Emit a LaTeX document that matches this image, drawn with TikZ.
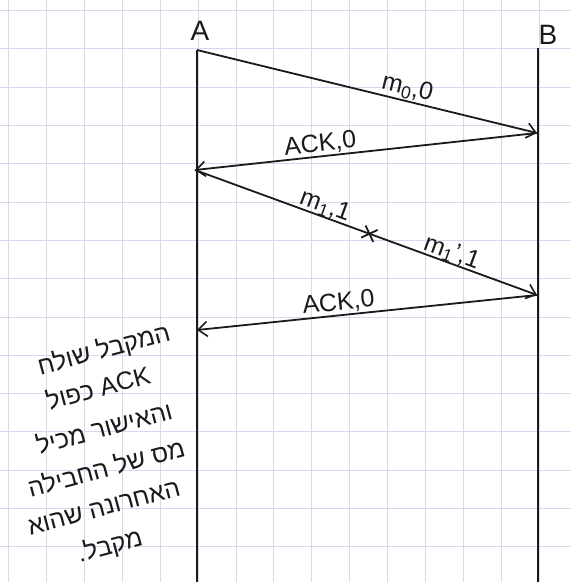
\documentclass[tikz,border=0pt]{standalone}
\usepackage{fontspec}
\setmainfont{Liberation Sans}
\newfontfamily\hebfont[Script=Hebrew]{Liberation Sans}
\TeXXeTstate=1
\usetikzlibrary{arrows.meta, shapes.misc}
\definecolor{cgrid}{HTML}{D6D8EE}
\definecolor{cink}{HTML}{1A1A1A}

\begin{document}
\begin{tikzpicture}[
  x=1pt, y=-1pt,
  >={Straight Barb[length=9pt, width=15pt, line width=1.6pt]},
  ink/.style={draw=cink, line width=1.8pt},
  msg/.style={ink, ->},
  lbl/.style={font=\fontsize{25}{29}\selectfont, inner sep=1pt, text=cink},
  head/.style={font=\fontsize{28}{32}\selectfont, inner sep=0pt, text=cink},
  heb/.style={font=\hebfont\fontsize{25}{29}\selectfont, rotate=15, inner sep=0pt, text=cink},
  gridline/.style={draw=cgrid, line width=0.8pt},
  lost/.style={cross out, draw=cink, line width=1.8pt, minimum size=11pt, inner sep=0pt},
  ]
\useasboundingbox (0,0) rectangle (571,582);
\fill[white] (0,0) rectangle (571,582);
% squared paper
\foreach \gx in {0,...,14} \draw[gridline] ({8.5+37.9*\gx},0) -- ++(0,582);
\foreach \gy in {0,...,14} \draw[gridline] (0,{10.5+38.3*\gy}) -- ++(571,0);
% the two sides
\node[head] (A) at (200,31) {A};
\node[head] (B) at (548,35) {B};
\coordinate (a1) at (197,50);
\coordinate (a2) at (195,170);
\coordinate (a3) at (197,330);
\coordinate (aEnd) at (197,582);
\coordinate (b0) at (538,48);
\coordinate (b1) at (537,133);
\coordinate (b2) at (537,295);
\coordinate (bEnd) at (538,582);
\draw[ink] (a1) -- (aEnd);
\draw[ink] (b0) -- (bEnd);
% messages
\draw[msg] (a1) -- node[lbl, sloped, above, pos=0.61] (m0) {m\textsubscript{0},0} (b1);
\draw[msg] (b1) -- node[lbl, sloped, above, pos=0.63] (ack0) {ACK,0} (a2);
\draw[msg] (a2) -- node[lbl, sloped, above=-2pt, pos=0.37] (m1) {m\textsubscript{1},1}
  node[lost, sloped, pos=0.51] (x1) {}
  node[lbl, sloped, above=-2pt, pos=0.74] (m1b) {m\textsubscript{1}',1} (b2);
\draw[msg] (b2) -- node[lbl, sloped, above, pos=0.58] (ack1) {ACK,0} (a3);
% note
\node[heb] (n1) at (104,350) {\beginR המקבל שולח\endR};
\node[heb] (n2) at (98,387) {\beginR\beginL ACK\endL{} כפול\endR};
\node[heb] (n3) at (104,427) {\beginR והאישור מכיל\endR};
\node[heb] (n4) at (106,467) {\beginR מס של החבילה\endR};
\node[heb] (n5) at (104,508) {\beginR האחרונה שהוא\endR};
\node[heb] (n6) at (110,546) {\beginR מקבל.\endR};
\end{tikzpicture}
\end{document}
